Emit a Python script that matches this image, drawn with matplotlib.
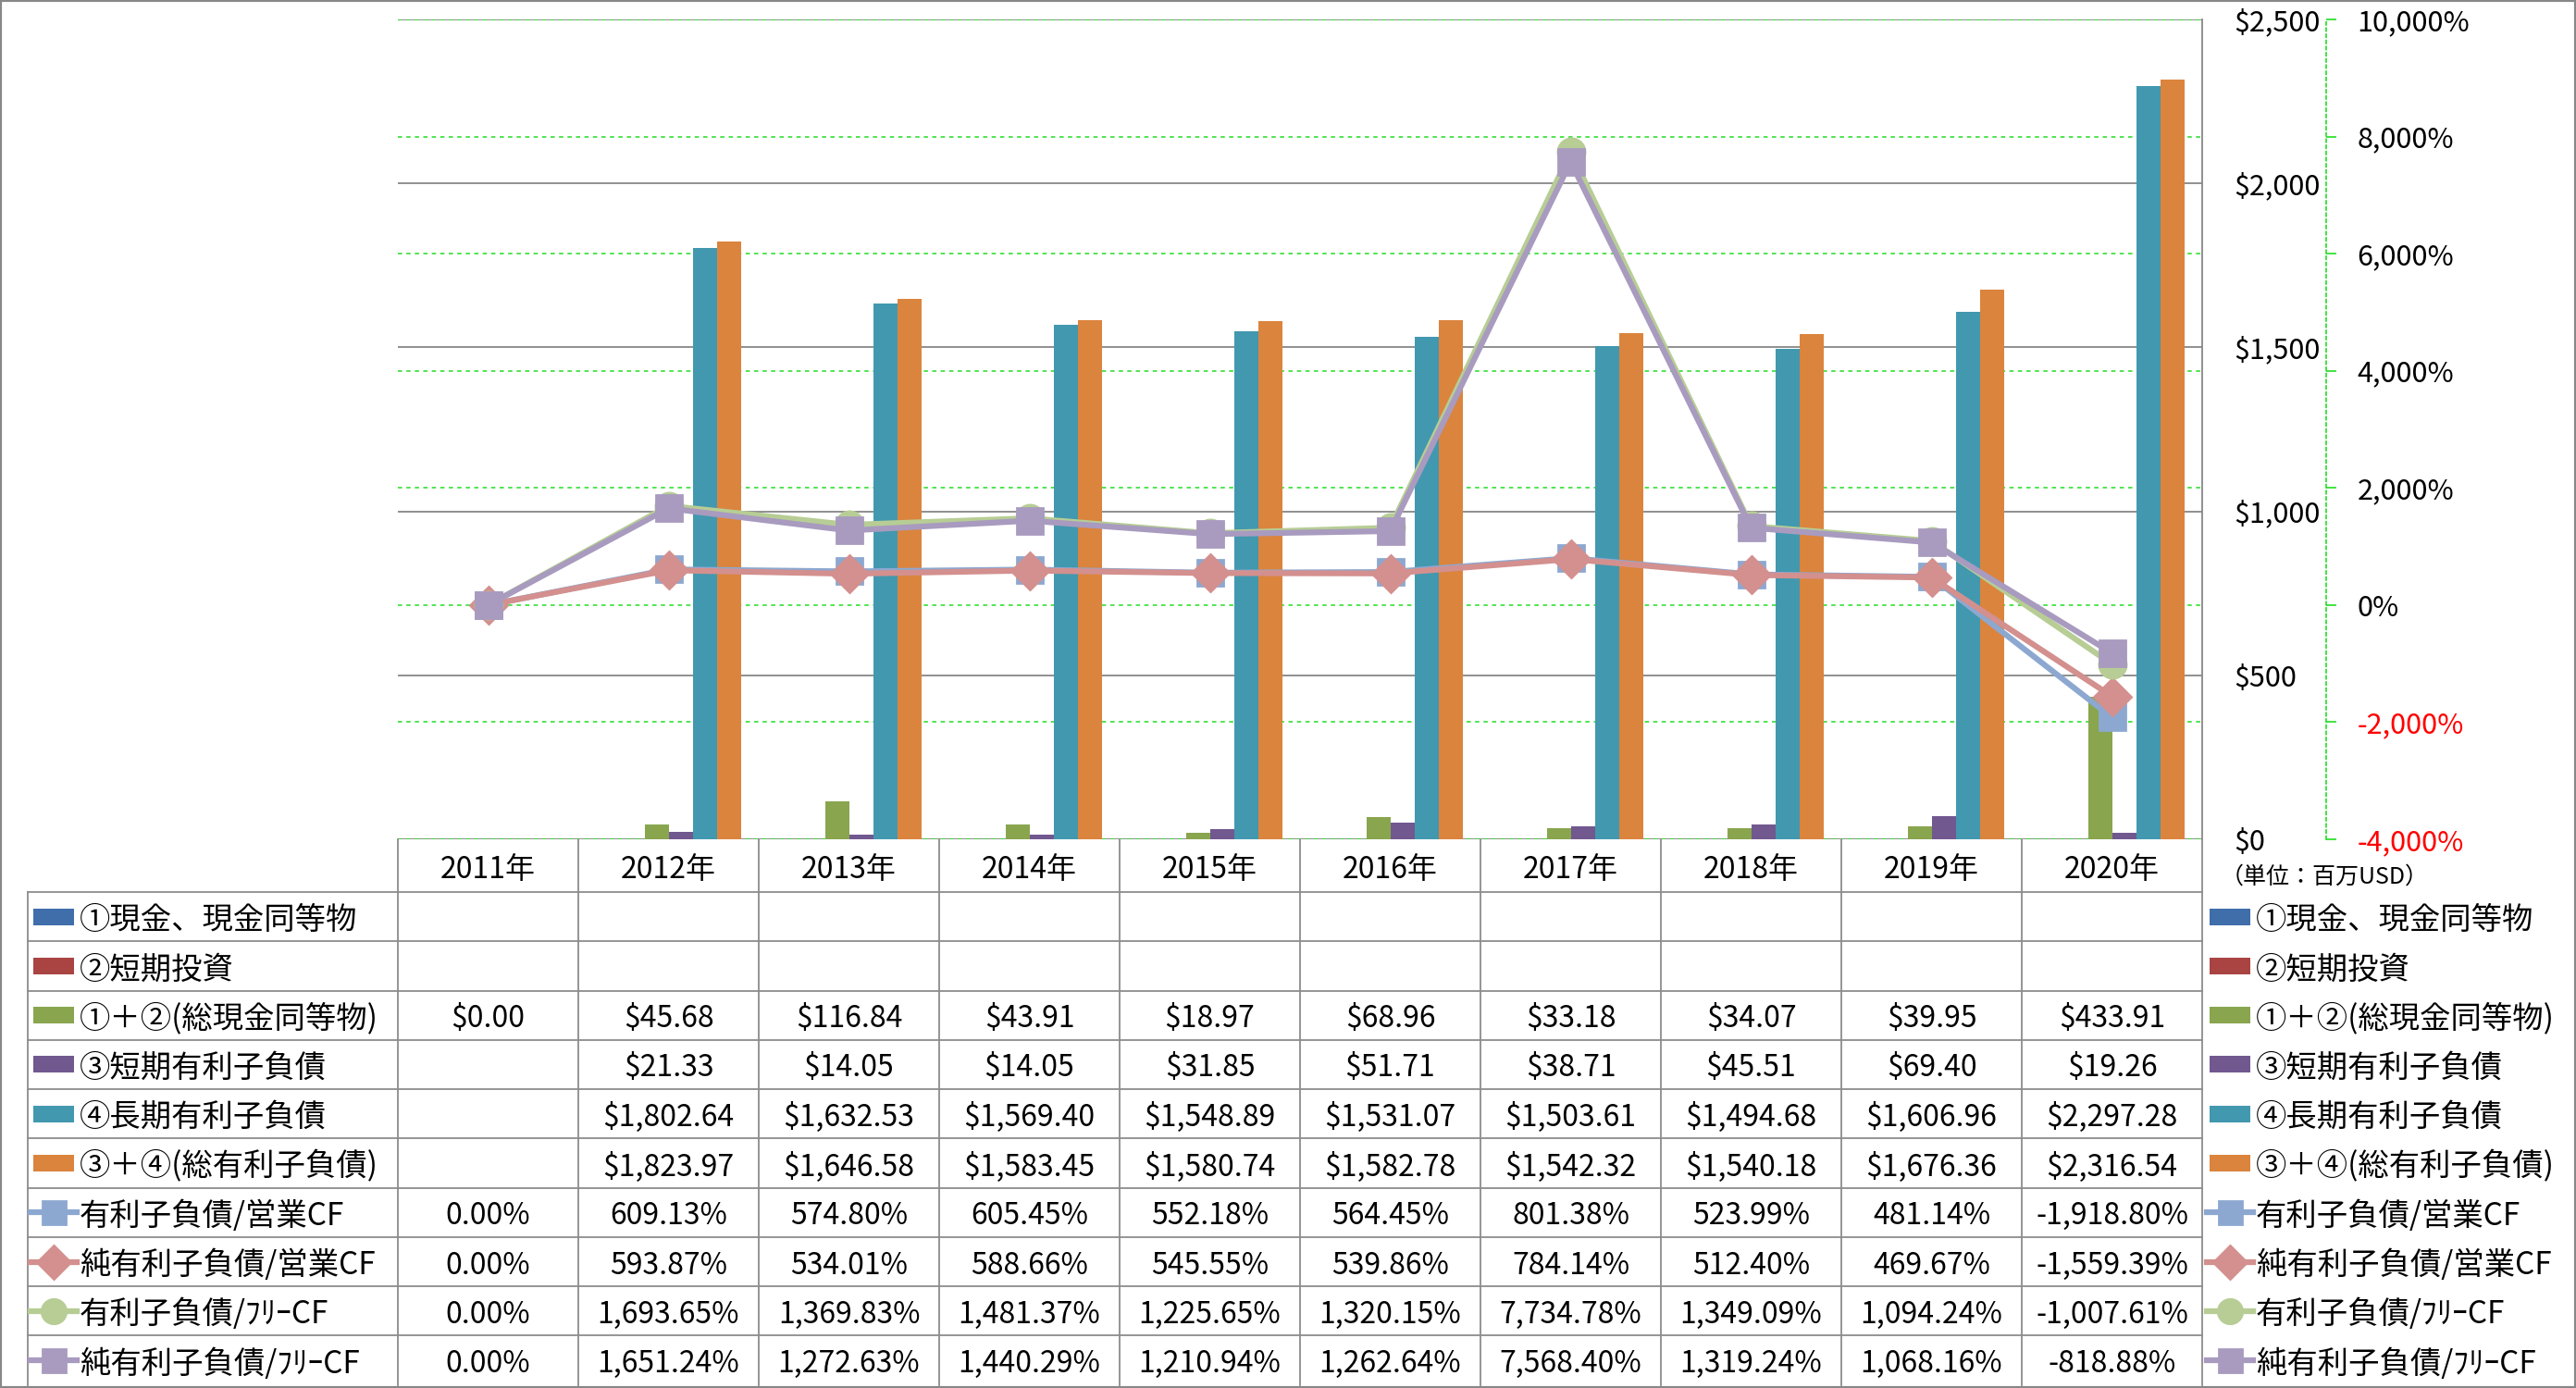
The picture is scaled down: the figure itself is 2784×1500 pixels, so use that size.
import matplotlib
matplotlib.use('Agg')
import matplotlib.pyplot as plt
from matplotlib.transforms import blended_transform_factory
from matplotlib.patches import Rectangle
from matplotlib.lines import Line2D
from matplotlib.ticker import FuncFormatter, MultipleLocator

plt.rcParams['font.family'] = ['Noto Sans CJK JP', 'DejaVu Sans']

years = ['2011年', '2012年', '2013年', '2014年', '2015年', '2016年', '2017年', '2018年', '2019年', '2020年']

# bar series (million USD), None = no data
bar_names = ['①現金、現金同等物', '②短期投資', '①＋②(総現金同等物)',
             '③短期有利子負債', '④長期有利子負債', '③＋④(総有利子負債)']
cash = [None] * 10
short_inv = [None] * 10
total_cash = [0.00, 45.68, 116.84, 43.91, 18.97, 68.96, 33.18, 34.07, 39.95, 433.91]
short_debt = [None, 21.33, 14.05, 14.05, 31.85, 51.71, 38.71, 45.51, 69.40, 19.26]
long_debt = [None, 1802.64, 1632.53, 1569.40, 1548.89, 1531.07, 1503.61, 1494.68, 1606.96, 2297.28]
total_debt = [None, 1823.97, 1646.58, 1583.45, 1580.74, 1582.78, 1542.32, 1540.18, 1676.36, 2316.54]
bar_data = [cash, short_inv, total_cash, short_debt, long_debt, total_debt]
bar_colors = ['#3F6EAB', '#A94442', '#89A54E', '#71588F', '#4298AF', '#DB843D']

# ratio series (%)
line_names = ['有利子負債/営業CF', '純有利子負債/営業CF', '有利子負債/ﾌﾘｰCF', '純有利子負債/ﾌﾘｰCF']
debt_ocf = [0.00, 609.13, 574.80, 605.45, 552.18, 564.45, 801.38, 523.99, 481.14, -1918.80]
net_ocf = [0.00, 593.87, 534.01, 588.66, 545.55, 539.86, 784.14, 512.40, 469.67, -1559.39]
debt_fcf = [0.00, 1693.65, 1369.83, 1481.37, 1225.65, 1320.15, 7734.78, 1349.09, 1094.24, -1007.61]
net_fcf = [0.00, 1651.24, 1272.63, 1440.29, 1210.94, 1262.64, 7568.40, 1319.24, 1068.16, -818.88]
line_data = [debt_ocf, net_ocf, debt_fcf, net_fcf]
line_colors = ['#8DA8D0', '#D3908E', '#B7CD95', '#A89BBF']
line_markers = ['s', 'D', 'o', 's']
marker_sizes = [20, 20, 21, 20]

W, H = 2784, 1500
fig = plt.figure(figsize=(W / 100, H / 100), dpi=100)

L, R, T, B = 430, 2380, 21, 907
ax = fig.add_axes([L / W, 1 - B / H, (R - L) / W, (B - T) / H])
ax2 = ax.twinx()

n = len(years)
bw = 1 / 7.5
for j, (vals, c) in enumerate(zip(bar_data, bar_colors)):
    xs = [i + (j - 2.5) * bw for i in range(n) if vals[i] is not None]
    ys = [v for v in vals if v is not None]
    if xs:
        ax.bar(xs, ys, width=bw, color=c, zorder=3)

ax.set_xlim(-0.5, n - 0.5)
ax.set_ylim(0, 2500)
ax2.set_ylim(-4000, 10000)

# gridlines
ax.yaxis.set_major_locator(MultipleLocator(500))
ax2.yaxis.set_major_locator(MultipleLocator(2000))
for v in range(0, 2501, 500):
    ax.axhline(v, color='#878787', lw=1.3, zorder=1)
tr = blended_transform_factory(ax.transAxes, ax2.transData)
for p in range(-4000, 10001, 2000):
    ax.plot([0, 1], [p, p], transform=tr, color='#22DD22', lw=1.1,
            ls=(0, (3, 3)), zorder=2)

for k, (vals, c, m, ms) in enumerate(zip(line_data, line_colors, line_markers, marker_sizes)):
    ax2.plot(range(n), vals, color=c, lw=4.5, marker=m, markersize=ms,
             markerfacecolor=c, markeredgecolor=c, markeredgewidth=2,
             solid_joinstyle='round', zorder=4 + k)

ax.set_xticks([])
for s in ['left', 'top', 'bottom']:
    ax.spines[s].set_visible(False)
    ax2.spines[s].set_visible(False)
ax.spines['right'].set_color('#878787')
ax.spines['right'].set_linewidth(1.3)

ax.yaxis.tick_right()
ax.yaxis.set_major_formatter(FuncFormatter(lambda v, p: f'${v:,.0f}'))
ax.tick_params(axis='y', length=0, pad=25, labelsize=22)

ax2.spines['right'].set_position(('axes', (2514 - L) / (R - L)))
ax2.spines['right'].set_color('#22DD22')
ax2.spines['right'].set_linestyle((0, (2, 2)))
ax2.spines['right'].set_linewidth(1.2)
ax2.yaxis.set_major_formatter(FuncFormatter(lambda v, p: f'{v:,.0f}%'))
ax2.tick_params(axis='y', length=8, width=1.2, color='#22DD22', pad=16, labelsize=22)
for lbl, v in zip(ax2.get_yticklabels(), ax2.get_yticks()):
    if v < 0:
        lbl.set_color('red')

# data table drawn in pixel coordinates
tab = fig.add_axes([0, 0, 1, 1], zorder=5)
tab.set_xlim(0, W)
tab.set_ylim(H, 0)
tab.axis('off')

gc = '#8C8C8C'
cw = (R - L) / n
head_bot = 964
rh = 53.27
nrows = len(bar_names) + len(line_names)
tbot = head_bot + rh * nrows
dy = 4

tab.plot([30, R], [head_bot, head_bot], color=gc, lw=1.3)
for r in range(1, nrows):
    y = head_bot + r * rh
    tab.plot([30, R], [y, y], color=gc, lw=1.3)
tab.plot([30, 30], [head_bot, tbot], color=gc, lw=1.3)
for k in range(n + 1):
    x = L + k * cw
    tab.plot([x, x], [B, tbot], color=gc, lw=1.3)

fs = 23
for i, yl in enumerate(years):
    tab.text(L + (i + 0.5) * cw, (B + head_bot) / 2 + dy, yl, ha='center', va='center', fontsize=fs)

row_names = bar_names + line_names
row_vals = bar_data + line_data
for r, (name, vals) in enumerate(zip(row_names, row_vals)):
    yc = head_bot + (r + 0.5) * rh
    for i, v in enumerate(vals):
        if v is None:
            continue
        s = f'${v:,.2f}' if r < len(bar_names) else f'{v:,.2f}%'
        tab.text(L + (i + 0.5) * cw, yc + dy, s, ha='center', va='center', fontsize=fs)
    for kx, tx in [(36, 86), (2388, 2438)]:
        if r < len(bar_names):
            tab.add_patch(Rectangle((kx, yc - 9), 44, 18, color=bar_colors[r], lw=0))
        else:
            k = r - len(bar_names)
            tab.add_line(Line2D([kx - 3, kx + 22, kx + 47], [yc, yc, yc], color=line_colors[k], lw=4.5,
                                marker=line_markers[k], markersize=marker_sizes[k] - 2,
                                markevery=[1], markerfacecolor=line_colors[k],
                                markeredgecolor=line_colors[k], markeredgewidth=2))
        tab.text(tx, yc + dy, name, ha='left', va='center', fontsize=24)

tab.text(2512, 948, '（単位：百万USD）', ha='center', va='center', fontsize=18)

fig.add_artist(Rectangle((0, 0), 1, 1, transform=fig.transFigure, fill=False,
                         ec='#878787', lw=3))

fig.savefig('out.png', dpi=100)
